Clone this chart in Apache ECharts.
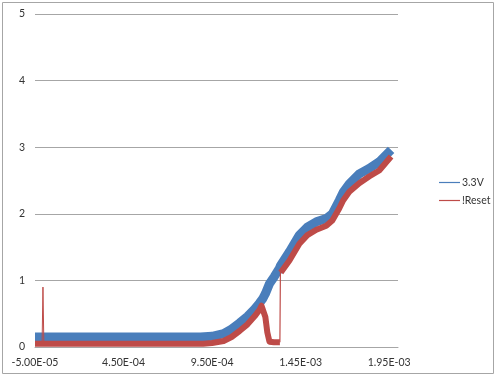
<!DOCTYPE html>
<html>
<head>
<meta charset="utf-8">
<script src="https://cdn.jsdelivr.net/npm/echarts@6/dist/echarts.min.js"></script>
<style>
  html, body { margin: 0; padding: 0; background: #fff; }
  #chart { width: 500px; height: 377px; }
</style>
</head>
<body>
<div id="chart"></div>
<script>
// x 轴刻度（时间，秒）
const xTicks = [-5.0e-5, 4.5e-4, 9.5e-4, 1.45e-3, 1.95e-3];

// 3.3V 曲线（从图上读出的中心值）
const vccX = [-5.0e-5, 2.0e-4, 5.0e-4, 7.5e-4, 8.85e-4, 9.5e-4, 1.015e-3, 1.06e-3, 1.105e-3, 1.15e-3,
  1.19e-3, 1.218e-3, 1.235e-3, 1.251e-3, 1.274e-3, 1.302e-3, 1.33e-3, 1.336e-3, 1.387e-3, 1.443e-3,
  1.488e-3, 1.539e-3, 1.595e-3, 1.629e-3, 1.668e-3, 1.69e-3, 1.725e-3, 1.781e-3, 1.837e-3, 1.894e-3, 1.961e-3];
const vccY = [0.15, 0.15, 0.15, 0.15, 0.15, 0.16, 0.2, 0.27, 0.36, 0.46,
  0.57, 0.66, 0.72, 0.8, 0.95, 1.06, 1.18, 1.22, 1.43, 1.68,
  1.8, 1.88, 1.93, 2.0, 2.2, 2.32, 2.45, 2.6, 2.68, 2.78, 2.96];

// !Reset 曲线（粗带部分，中间跳变处断开）
const rstX = [-5.0e-5, 2.0e-4, 5.0e-4, 7.5e-4, 9.0e-4, 9.5e-4, 1.015e-3, 1.06e-3, 1.105e-3, 1.15e-3,
  1.19e-3, 1.218e-3, 1.229e-3, 1.24e-3, 1.251e-3, 1.262e-3, 1.274e-3, 1.3e-3, 1.333e-3,
  1.338e-3, 1.387e-3, 1.443e-3, 1.488e-3, 1.539e-3, 1.595e-3, 1.629e-3, 1.668e-3, 1.69e-3, 1.725e-3, 1.781e-3, 1.837e-3, 1.894e-3, 1.961e-3];
const rstY = [0.05, 0.05, 0.05, 0.05, 0.05, 0.06, 0.09, 0.15, 0.24, 0.34,
  0.46, 0.56, 0.62, 0.6, 0.45, 0.22, 0.08, 0.07, 0.07,
  1.12, 1.3, 1.55, 1.68, 1.76, 1.82, 1.9, 2.08, 2.2, 2.33, 2.46, 2.56, 2.65, 2.86];

// !Reset 细线尖峰（单点跳变）
const spikeX = [-1.0e-5, -5.0e-6, 0];
const spikeY = [0.05, 0.9, 0.05];
const jumpX = [1.333e-3, 1.336e-3, 1.338e-3];
const jumpY = [0.07, 1.16, 1.12];

const zip = (xs, ys) => xs.map((x, i) => [x, ys[i]]);
// 跳变处插入断点
const rstData = zip(rstX, rstY);
rstData.splice(19, 0, [1.3355e-3, '-']);

const fmtE = v => {
  const s = v.toExponential(2).toUpperCase(); // e.g. -5.00E-5
  return s.replace(/E([+-])(\d)$/, 'E$10$2');
};

const blue = '#4a7ebb';
const red = '#be4b48';
const labelFont = { fontFamily: 'Lato, "Open Sans", sans-serif', fontSize: 10.5, color: '#333' };
const noBorder = { borderWidth: 0, borderColor: 'rgba(0,0,0,0)' };

const myChart = echarts.init(document.getElementById('chart'));
myChart.setOption({
  animation: false,
  graphic: [{
    type: 'rect',
    shape: { x: 2.5, y: 2.5, width: 491, height: 371 },
    style: { fill: 'none', stroke: '#a6a6a6', lineWidth: 1 }
  }],
  grid: { left: 35, right: 102, top: 14, bottom: 30 },
  legend: {
    orient: 'vertical',
    left: 434,
    top: 172,
    itemWidth: 21,
    itemHeight: 1.2,
    itemGap: 7,
    icon: 'rect',
    itemStyle: noBorder,
    lineStyle: { width: 0 },
    textStyle: { ...labelFont, padding: [0, 0, 0, -3] },
    data: [
      { name: '3.3V', itemStyle: { color: blue, ...noBorder } },
      { name: '!Reset', itemStyle: { color: red, ...noBorder } }
    ]
  },
  xAxis: {
    type: 'value',
    min: xTicks[0],
    max: 2.0e-3,
    interval: 5.0e-4,
    axisLine: { show: true, lineStyle: { color: '#a6a6a6' } },
    axisTick: { show: false },
    splitLine: { show: false },
    axisLabel: { ...labelFont, margin: 10, showMaxLabel: false, formatter: fmtE }
  },
  yAxis: {
    type: 'value',
    min: 0,
    max: 5,
    interval: 1,
    axisLine: { show: false },
    axisTick: { show: false },
    splitLine: { lineStyle: { color: '#a6a6a6', width: 1 } },
    axisLabel: { ...labelFont, margin: 10 }
  },
  series: [
    {
      name: '3.3V', type: 'line', data: zip(vccX, vccY), showSymbol: false,
      lineStyle: { color: blue, width: 9, cap: 'butt', join: 'round' },
      itemStyle: { color: blue }
    },
    {
      name: '!Reset', type: 'line', data: rstData, showSymbol: false,
      lineStyle: { color: red, width: 6, cap: 'butt', join: 'round' },
      itemStyle: { color: red }
    },
    {
      name: '!Reset', type: 'line', data: zip(spikeX, spikeY), showSymbol: false,
      lineStyle: { color: red, width: 1 }, itemStyle: { color: red }
    },
    {
      name: '!Reset', type: 'line', data: zip(jumpX, jumpY), showSymbol: false,
      lineStyle: { color: red, width: 1.2 }, itemStyle: { color: red }
    }
  ]
});
</script>
</body>
</html>
